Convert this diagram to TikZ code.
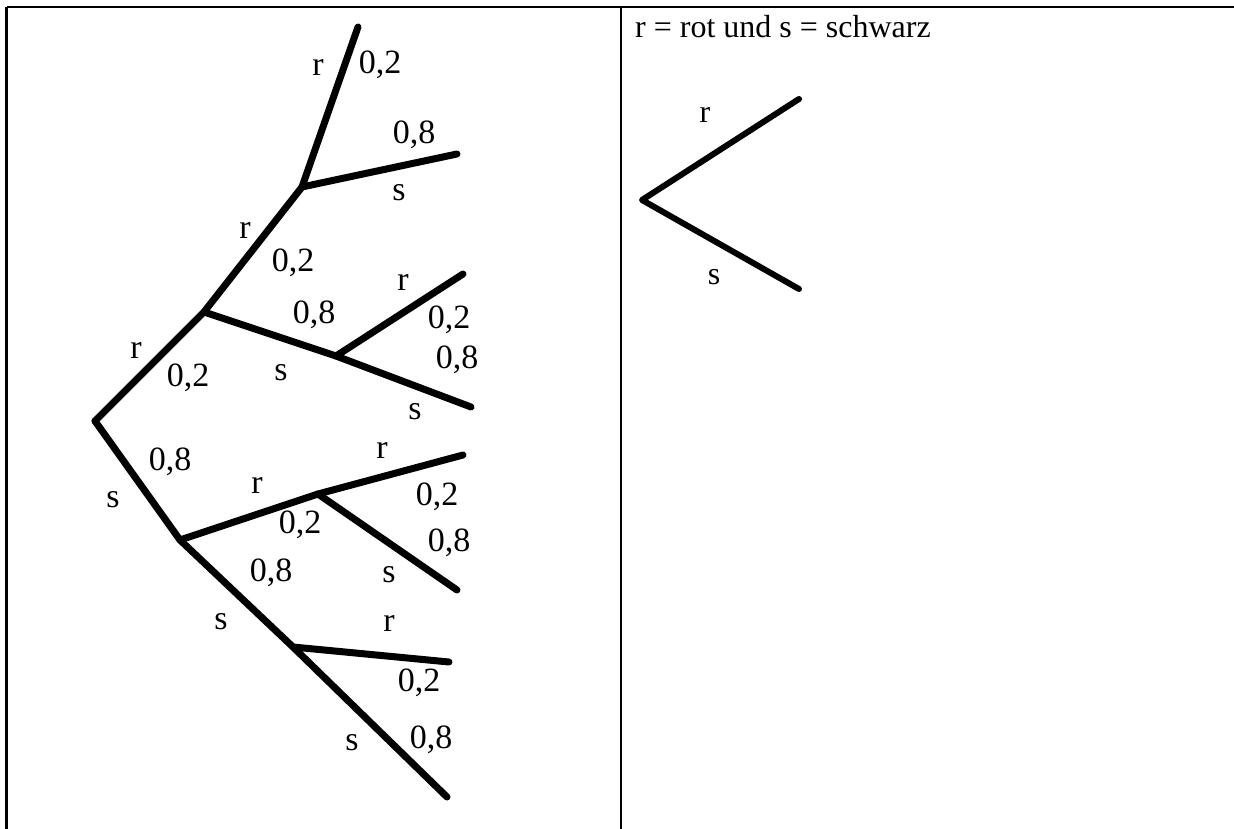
\documentclass[tikz,border=0pt]{standalone}
\usepackage{fontspec}
\setmainfont{Liberation Serif}
\begin{document}
\begin{tikzpicture}[x=1pt,y=-1pt,
  br/.style={line width=7pt,line cap=round,line join=round},
  lab/.style={font=\fontsize{34}{34}\selectfont,inner sep=0pt},
  leglab/.style={font=\fontsize{32}{32}\selectfont,inner sep=0pt},
  frame/.style={line width=2.4pt}]
\useasboundingbox (0,0) rectangle (1234,829);
% table frame
\coordinate (tl) at (6.5,7);
\coordinate (tm) at (621,7);
\coordinate (tr) at (1234,7);
\coordinate (bl) at (6.5,829);
\coordinate (bm) at (621,829);
\draw[line width=1.3pt] (tl) -- (tr);
\draw[frame] (594,7) -- (tr);
\draw[frame] (6.5,7) -- (20,7);
\draw[frame] (tl) -- (bl);
\draw[frame] (tm) -- (bm);
% tree nodes
\coordinate (A) at (95,421);
\coordinate (B) at (204,312);
\coordinate (C) at (302,187);
\coordinate (C1) at (358,27);
\coordinate (C2) at (457,154);
\coordinate (D) at (336,356);
\coordinate (D1) at (463,274);
\coordinate (D2) at (471,407);
\coordinate (E) at (180,540);
\coordinate (F) at (318,494);
\coordinate (F1) at (463,455);
\coordinate (F2) at (457,590);
\coordinate (G) at (293,647);
\coordinate (G1) at (449,662);
\coordinate (G2) at (447,797);
\draw[br] (A) -- (B) -- (C) -- (C1);
\draw[br] (C) -- (C2);
\draw[br] (B) -- (D) -- (D1);
\draw[br] (D) -- (D2);
\draw[br] (A) -- (E) -- (F) -- (F1);
\draw[br] (F) -- (F2);
\draw[br] (E) -- (G) -- (G1);
\draw[br] (G) -- (G2);
% labels
\node[lab] (l1) at (318,67) {r};
\node[lab] (l2) at (380,65) {0,2};
\node[lab] (l3) at (414,135) {0,8};
\node[lab] (l4) at (399,193) {s};
\node[lab] (l5) at (245,230) {r};
\node[lab] (l6) at (293,263) {0,2};
\node[lab] (l7) at (403,282) {r};
\node[lab] (l8) at (449,320) {0,2};
\node[lab] (l9) at (314,315) {0,8};
\node[lab] (l10) at (281,373) {s};
\node[lab] (l11) at (457,360) {0,8};
\node[lab] (l12) at (415,412) {s};
\node[lab] (l13) at (136,350) {r};
\node[lab] (l14) at (188,378) {0,2};
\node[lab] (l15) at (170,462) {0,8};
\node[lab] (l16) at (113,500) {s};
\node[lab] (l17) at (382,450) {r};
\node[lab] (l18) at (257,485) {r};
\node[lab] (l19) at (300,525) {0,2};
\node[lab] (l20) at (437,497) {0,2};
\node[lab] (l21) at (449,543) {0,8};
\node[lab] (l22) at (389,575) {s};
\node[lab] (l23) at (271,573) {0,8};
\node[lab] (l24) at (221,622) {s};
\node[lab] (l25) at (389,623) {r};
\node[lab] (l26) at (419,683) {0,2};
\node[lab] (l27) at (352,743) {s};
\node[lab] (l28) at (431,740) {0,8};
% legend
\node[anchor=base west,leglab] (leg) at (635,38) {r = rot und s = schwarz};
\coordinate (V) at (642,200);
\coordinate (V1) at (799,99);
\coordinate (V2) at (799,289);
\draw[br,line width=6pt] (V1) -- (V) -- (V2);
\node[leglab] (vr) at (705,115) {r};
\node[leglab] (vs) at (714,277) {s};
\end{tikzpicture}
\end{document}
